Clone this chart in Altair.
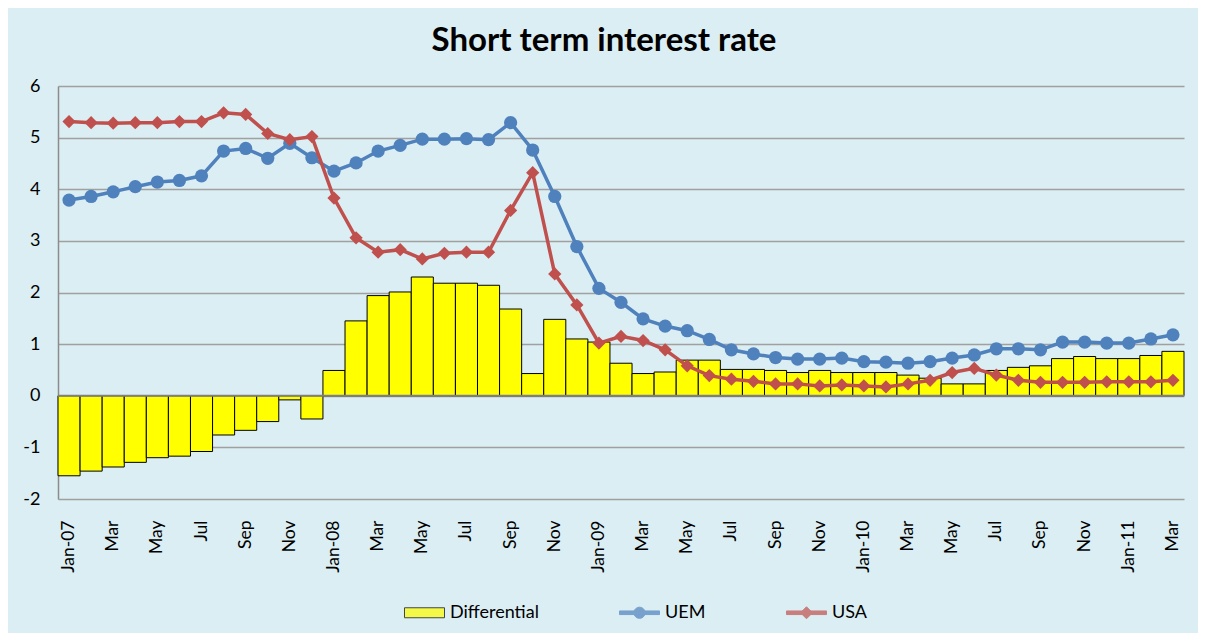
import altair as alt
import pandas as pd

# ---- data ----
months = [
    "Jan-07", "Feb-07", "Mar-07", "Apr-07", "May-07", "Jun-07", "Jul-07", "Aug-07", "Sep-07", "Oct-07", "Nov-07", "Dec-07",
    "Jan-08", "Feb-08", "Mar-08", "Apr-08", "May-08", "Jun-08", "Jul-08", "Aug-08", "Sep-08", "Oct-08", "Nov-08", "Dec-08",
    "Jan-09", "Feb-09", "Mar-09", "Apr-09", "May-09", "Jun-09", "Jul-09", "Aug-09", "Sep-09", "Oct-09", "Nov-09", "Dec-09",
    "Jan-10", "Feb-10", "Mar-10", "Apr-10", "May-10", "Jun-10", "Jul-10", "Aug-10", "Sep-10", "Oct-10", "Nov-10", "Dec-10",
    "Jan-11", "Feb-11", "Mar-11",
]

uem = [
    3.79, 3.86, 3.95, 4.05, 4.14, 4.17, 4.26, 4.74, 4.79, 4.60, 4.89, 4.61,
    4.35, 4.51, 4.74, 4.85, 4.97, 4.97, 4.98, 4.96, 5.29, 4.76, 3.86, 2.89,
    2.08, 1.81, 1.49, 1.35, 1.26, 1.09, 0.89, 0.81, 0.74, 0.71, 0.71, 0.73,
    0.66, 0.65, 0.63, 0.66, 0.73, 0.79, 0.91, 0.91, 0.89, 1.04, 1.04, 1.02,
    1.02, 1.10, 1.18,
]

usa = [
    5.31, 5.29, 5.28, 5.29, 5.29, 5.31, 5.31, 5.48, 5.45, 5.08, 4.96, 5.02,
    3.83, 3.06, 2.78, 2.83, 2.65, 2.76, 2.78, 2.78, 3.59, 4.32, 2.36, 1.76,
    1.02, 1.15, 1.07, 0.89, 0.58, 0.39, 0.32, 0.28, 0.23, 0.23, 0.19, 0.21,
    0.19, 0.17, 0.23, 0.30, 0.45, 0.53, 0.40, 0.30, 0.26, 0.26, 0.26, 0.27,
    0.27, 0.27, 0.30,
]

differential = [
    -1.55, -1.46, -1.38, -1.29, -1.20, -1.17, -1.08, -0.76, -0.67, -0.50, -0.08, -0.45,
    0.49, 1.45, 1.94, 2.01, 2.30, 2.18, 2.18, 2.14, 1.68, 0.43, 1.48, 1.10,
    1.04, 0.63, 0.43, 0.46, 0.69, 0.69, 0.51, 0.51, 0.49, 0.45, 0.49, 0.45,
    0.45, 0.45, 0.40, 0.34, 0.23, 0.23, 0.49, 0.55, 0.58, 0.72, 0.76, 0.72,
    0.72, 0.78, 0.86,
]

series_names = ["Differential", "UEM", "USA"]
series_fill = ["#FFFF00", "#4F81BD", "#C0504D"]
series_stroke = ["#000000", "#4F81BD", "#C0504D"]
y_ticks = [-2, -1, 0, 1, 2, 3, 4, 5, 6]

# legend symbols (custom SVG paths in the [-1, 1] unit box)
sym_rect = "M-1,-0.25H1V0.25H-1Z"
sym_uem = ("M-1,-0.09H1V0.09H-1Z "
           "M-0.28,0A0.28,0.28,0,1,1,0.28,0A0.28,0.28,0,1,1,-0.28,0Z")
sym_usa = "M-1,-0.09H1V0.09H-1Z M0,-0.3L0.3,0L0,0.3L-0.3,0Z"
series_shape = [sym_rect, sym_uem, sym_usa]

df = pd.DataFrame({"month": months, "Differential": differential, "UEM": uem, "USA": usa})
zero_df = pd.DataFrame({"zero": [0]})

FONT = "Lato"

x_enc = alt.X(
    "month:N",
    scale=alt.Scale(domain=months, paddingInner=0, paddingOuter=0),
    axis=alt.Axis(
        values=months[::2],
        labelExpr="indexof(datum.value, 'Jan') == 0 ? datum.value : slice(datum.value, 0, 3)",
        labelAngle=-90,
        labelFont=FONT,
        labelFontSize=17.5,
        labelColor="black",
        labelPadding=21,
        ticks=False,
        domain=False,
        grid=False,
        title=None,
    ),
)

y_scale = alt.Scale(domain=[-2, 6], nice=False, zero=False)
y_axis = alt.Axis(
    values=y_ticks,
    labelExpr="'' + datum.value",
    labelFont=FONT,
    labelFontSize=18,
    labelColor="black",
    labelPadding=18,
    ticks=False,
    domain=True,
    domainColor="#8C8C8C",
    domainWidth=1.5,
    grid=True,
    gridColor="#A0A0A0",
    gridWidth=1.4,
    title=None,
)

legend_props = dict(
    orient="none",
    legendX=346,
    legendY=506,
    direction="horizontal",
    title=None,
    symbolSize=1600,
    symbolStrokeWidth=1,
    labelFont=FONT,
    labelFontSize=18,
    labelColor="black",
    labelOffset=5,
    columnPadding=78,
    padding=0,
)

color_enc = alt.Color("series:N", scale=alt.Scale(domain=series_names, range=series_fill),
                      legend=alt.Legend(**legend_props))
stroke_enc = alt.Stroke("series:N", scale=alt.Scale(domain=series_names, range=series_stroke),
                        legend=alt.Legend(**legend_props))
shape_enc = alt.Shape("series:N", scale=alt.Scale(domain=series_names, range=series_shape),
                      legend=alt.Legend(**legend_props))

bars = alt.Chart(df).transform_calculate(series="'Differential'").mark_bar(strokeWidth=1).encode(
    x=x_enc,
    y=alt.Y("Differential:Q", scale=y_scale, axis=y_axis, title=None),
    color=color_enc,
    stroke=stroke_enc,
)

zero_line = alt.Chart(zero_df).mark_rule(color="#7F7F7F", strokeWidth=2).encode(
    y=alt.Y("zero:Q", scale=y_scale, title=None)
)

uem_line = alt.Chart(df).mark_line(
    color="#4F81BD", strokeWidth=3.5,
    point=alt.OverlayMarkDef(shape="circle", size=175, filled=True, color="#4F81BD", opacity=1),
).encode(x=x_enc, y=alt.Y("UEM:Q", scale=y_scale, title=None))

usa_line = alt.Chart(df).mark_line(
    color="#C0504D", strokeWidth=3.5,
    point=alt.OverlayMarkDef(shape="diamond", size=175, filled=True, color="#C0504D", opacity=1),
).encode(x=x_enc, y=alt.Y("USA:Q", scale=y_scale, title=None))

legend_layer = alt.Chart(df).transform_calculate(series="'UEM'").transform_filter("false").mark_point(
    filled=True
).encode(color=color_enc, stroke=stroke_enc, shape=shape_enc)

chart = alt.layer(bars, zero_line, uem_line, usa_line, legend_layer).properties(
    width=1126,
    height=413,
    title=alt.TitleParams(
        "Short term interest rate",
        font=FONT,
        fontSize=33,
        fontWeight="bold",
        color="black",
        anchor="middle",
        dx=-17,
        offset=19,
    ),
    autosize=alt.AutoSizeParams(type="none"),
    padding={"left": 50, "top": 78, "right": 14, "bottom": 134},
    background="#DBEEF3",
).configure_view(fill="white", stroke=None)

chart.save("out.html", embed_options={"renderer": "svg", "actions": False})
